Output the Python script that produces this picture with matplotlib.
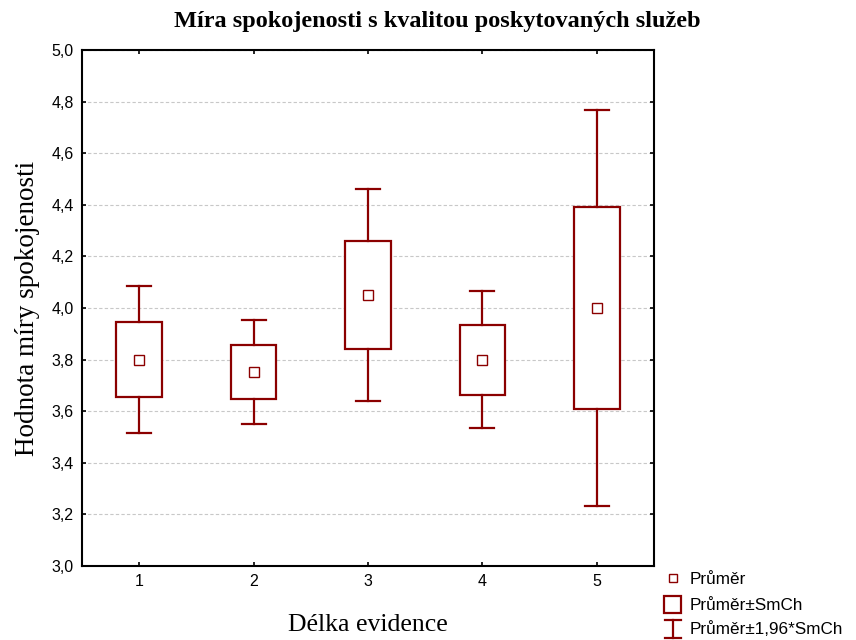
import matplotlib.pyplot as plt
from matplotlib.patches import Rectangle
from matplotlib.lines import Line2D
from matplotlib.ticker import FuncFormatter

# mean and standard error of satisfaction score per length-of-record group
groups = [1, 2, 3, 4, 5]
means = [3.80, 3.752, 4.05, 3.80, 4.00]
sems = [0.146, 0.103, 0.209, 0.136, 0.392]

yticks = [3.0, 3.2, 3.4, 3.6, 3.8, 4.0, 4.2, 4.4, 4.6, 4.8, 5.0]

RED = '#8b0000'
W, H = 856, 640

fig = plt.figure(figsize=(W / 100, H / 100), dpi=100)
ax = fig.add_axes([82 / W, 1 - 566 / H, (654 - 82) / W, (566 - 50) / H])

box_w = 0.4
cap_w = 0.21
for x, m, s in zip(groups, means, sems):
    lo, hi = m - s, m + s
    wlo, whi = m - 1.96 * s, m + 1.96 * s
    ax.add_patch(Rectangle((x - box_w / 2, lo), box_w, hi - lo,
                           facecolor='white', edgecolor=RED, lw=1.6, zorder=3))
    ax.plot([x, x], [hi, whi], color=RED, lw=1.6, zorder=3)
    ax.plot([x, x], [wlo, lo], color=RED, lw=1.6, zorder=3)
    ax.plot([x - cap_w / 2, x + cap_w / 2], [whi, whi], color=RED, lw=1.6, zorder=3)
    ax.plot([x - cap_w / 2, x + cap_w / 2], [wlo, wlo], color=RED, lw=1.6, zorder=3)
    ax.plot([x], [m], marker='s', ms=6.5, mfc='white', mec=RED, mew=1.0, zorder=4)

ax.set_xlim(0.5, 5.5)
ax.set_ylim(3.0, 5.0)
ax.set_xticks(groups)
ax.set_yticks(yticks)
ax.yaxis.set_major_formatter(FuncFormatter(lambda v, p: f'{v:.1f}'.replace('.', ',')))
ax.grid(axis='y', color='#c8c8c8', ls=(0, (3, 2)), lw=0.8, zorder=0)
ax.tick_params(direction='in', length=3, width=1.2, top=True, right=True,
               labelsize=11.5, pad=6)
for lab in ax.get_xticklabels() + ax.get_yticklabels():
    lab.set_fontfamily('Liberation Sans')
for sp in ax.spines.values():
    sp.set_linewidth(1.5)

ax.set_xlabel('Délka evidence', family='Liberation Serif', fontsize=18.5, labelpad=18)
ax.set_ylabel('Hodnota míry spokojenosti', family='Liberation Serif', fontsize=19.5, labelpad=8)
fig.text(437 / W, 1 - 22 / H, 'Míra spokojenosti s kvalitou poskytovaných služeb',
         family='Liberation Serif', fontweight='bold', fontsize=17.5,
         ha='center', va='center')

# legend drawn in pixel coordinates below the right edge of the plot
def px(x, y):
    return x / W, 1 - y / H

legend_font = dict(family='Liberation Sans', fontsize=12.3, va='center', ha='left')
fig.add_artist(Rectangle(px(669, 582), 8 / W, 8 / H, facecolor='white',
                         edgecolor=RED, lw=1.0, transform=fig.transFigure))
fig.text(*px(690, 579), 'Průměr', **legend_font)
fig.add_artist(Rectangle(px(664, 613), 17 / W, 17 / H, facecolor='white',
                         edgecolor=RED, lw=1.6, transform=fig.transFigure))
fig.text(*px(690, 605), 'Průměr±SmCh', **legend_font)
for xs, ys in [((673, 673), (620, 638)), ((665, 681), (620, 620)), ((665, 681), (638, 638))]:
    fig.add_artist(Line2D([x / W for x in xs], [1 - y / H for y in ys],
                          color=RED, lw=1.6, transform=fig.transFigure))
fig.text(*px(690, 629), 'Průměr±1,96*SmCh', **legend_font)

fig.savefig('out.png', dpi=100)
